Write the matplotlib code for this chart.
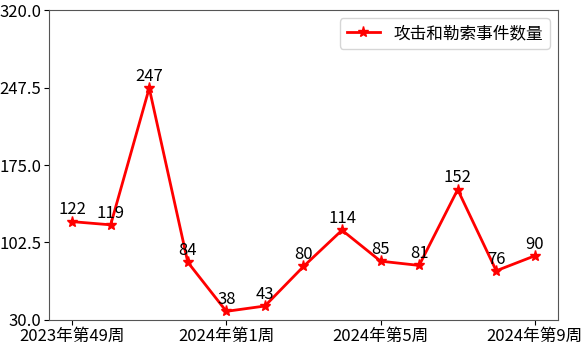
import numpy as np
import matplotlib
matplotlib.use("Agg")
import matplotlib.pyplot as plt

plt.rcParams['font.family'] = ['Noto Sans CJK SC', 'DejaVu Sans']
plt.rcParams['axes.unicode_minus'] = False

weeks = ['2023年第49周', '2023年第50周', '2023年第51周', '2023年第52周',
         '2024年第1周', '2024年第2周', '2024年第3周', '2024年第4周',
         '2024年第5周', '2024年第6周', '2024年第7周', '2024年第8周',
         '2024年第9周']
counts = [122, 119, 247, 84, 38, 43, 80, 114, 85, 81, 152, 76, 90]
yTicks = [30.0, 102.5, 175.0, 247.5, 320.0]

fig = plt.figure(figsize=(5.83, 3.5), dpi=100)
ax = fig.add_axes([0.084, 0.086, 0.873, 0.885])

xs = np.arange(len(weeks))
ax.plot(xs, counts, color='red', linewidth=2, marker='*', markersize=8,
        label='攻击和勒索事件数量')

for x, v in zip(xs, counts):
    ax.text(x, v + 3, str(v), ha='center', va='bottom', fontsize=12)

ax.set_xticks(xs[::4])
ax.set_xticklabels(weeks[::4], fontsize=12)
ax.set_ylim(30, 320)
ax.set_yticks(yTicks)
ax.set_yticklabels([f"{t:.1f}" for t in yTicks], fontsize=12)
ax.tick_params(axis='both', pad=2)

for s in ax.spines.values():
    s.set_color('#555555')

ax.legend(loc='upper right', fontsize=12)

fig.savefig('out.png', dpi=100)
